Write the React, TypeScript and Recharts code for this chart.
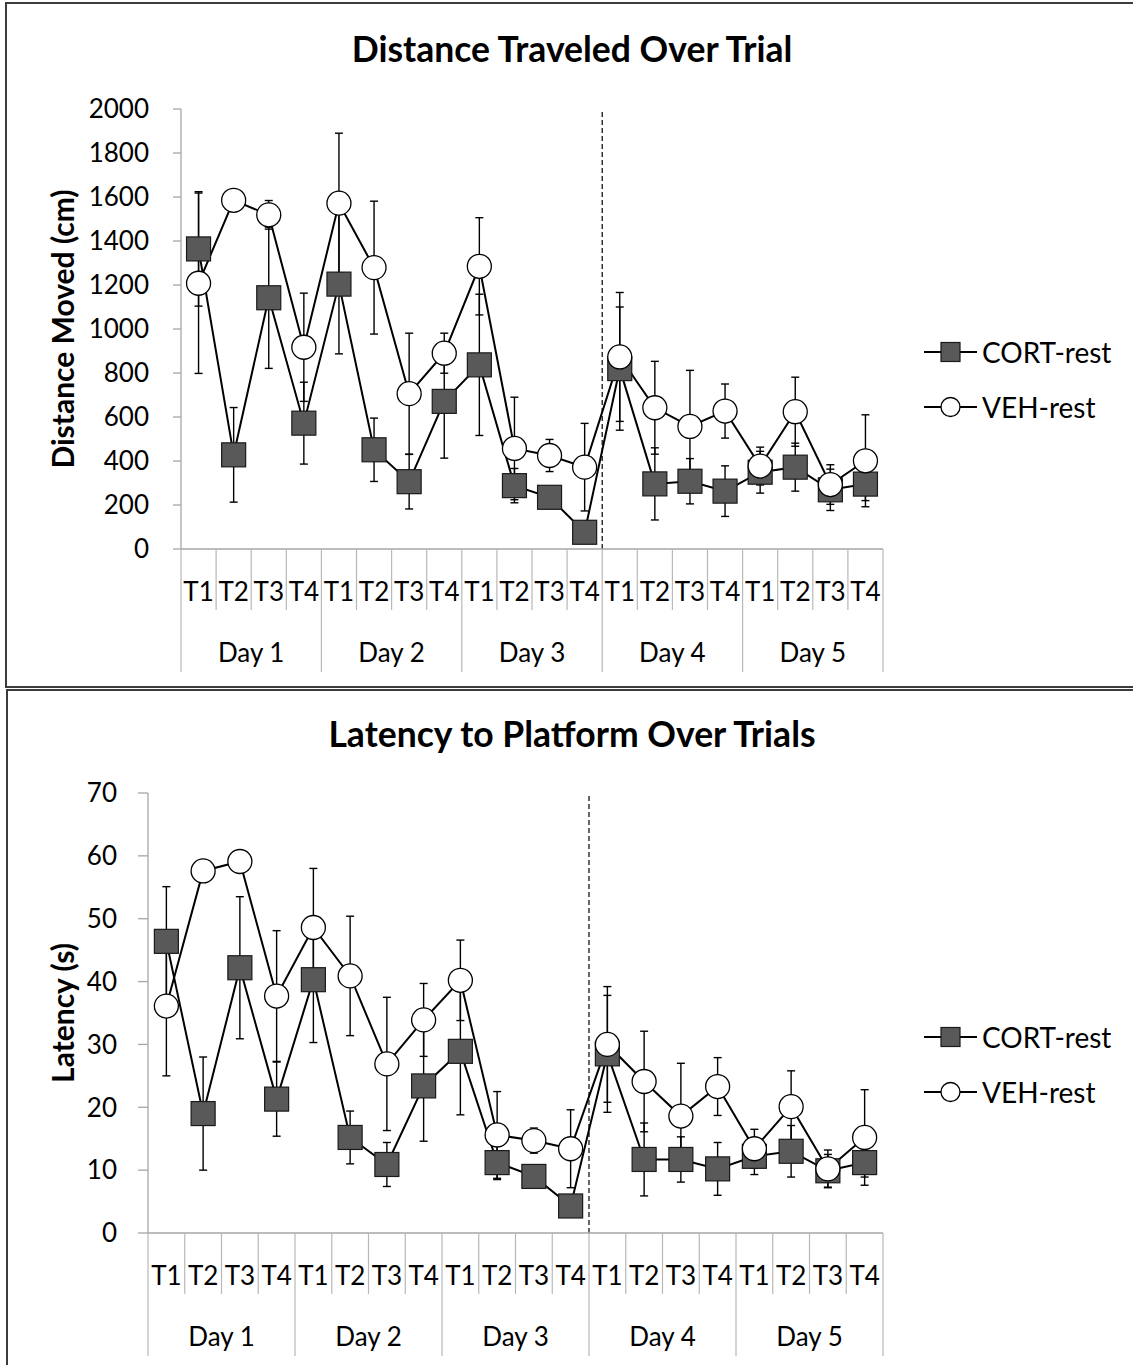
import React from 'react';
import { ComposedChart, Line, XAxis, YAxis, ErrorBar, ReferenceLine } from 'recharts';

const trialLabels = ['T1', 'T2', 'T3', 'T4', 'T1', 'T2', 'T3', 'T4', 'T1', 'T2', 'T3', 'T4', 'T1', 'T2', 'T3', 'T4', 'T1', 'T2', 'T3', 'T4'];
const dayLabels = ['Day 1', 'Day 2', 'Day 3', 'Day 4', 'Day 5'];
const seriesNames = ['CORT-rest', 'VEH-rest'];

const distCort = [1364, 428, 1142, 572, 1204, 451, 306, 671, 837, 288, 235, 76, 820, 296, 308, 263, 349, 372, 269, 295];
const distCortErr = [260, 215, 321, 186, 317, 144, 124, 258, 321, 78, 20, 20, 280, 164, 103, 115, 95, 109, 94, 75];
const distVeh = [1208, 1585, 1519, 917, 1572, 1279, 706, 890, 1285, 457, 425, 372, 873, 642, 557, 627, 377, 624, 293, 401];
const distVehErr = [410, 15, 65, 246, 318, 302, 275, 91, 221, 233, 73, 199, 293, 211, 255, 123, 86, 157, 90, 209];

const latCort = [46.4, 19.0, 42.2, 21.3, 40.3, 15.2, 10.9, 23.4, 28.9, 11.2, 9.0, 4.3, 28.5, 11.7, 11.7, 10.2, 12.2, 13.0, 9.9, 11.2];
const latCortErr = [8.7, 9.0, 11.3, 5.9, 10.0, 4.2, 3.5, 8.8, 10.1, 2.7, 0.8, 0.5, 9.3, 5.8, 3.6, 4.2, 2.9, 4.1, 2.6, 2.3];
const latVeh = [36.1, 57.6, 59.1, 37.7, 48.6, 40.9, 26.9, 33.9, 40.2, 15.6, 14.7, 13.4, 30.0, 24.1, 18.6, 23.3, 13.4, 20.1, 10.2, 15.2];
const latVehErr = [11.1, 0.5, 0.5, 10.4, 9.4, 9.5, 10.6, 5.8, 6.4, 6.9, 2.0, 6.2, 9.2, 8.0, 8.4, 4.6, 3.1, 5.7, 3.0, 7.6];

const distTicks = [0, 200, 400, 600, 800, 1000, 1200, 1400, 1600, 1800, 2000];
const latTicks = [0, 10, 20, 30, 40, 50, 60, 70];
const boundaryTicks = Array.from({ length: 21 }, (_, i) => i);

const FONT = 'Lato, "Open Sans", sans-serif';
const AXIS_GRAY = '#a6a6a6';

const buildRows = (cort: number[], cortErr: number[], veh: number[], vehErr: number[]) =>
  trialLabels.map((t, i) => ({ x: i + 0.5, trial: t, cort: cort[i], cortErr: cortErr[i], veh: veh[i], vehErr: vehErr[i] }));

const distRows = buildRows(distCort, distCortErr, distVeh, distVehErr);
const latRows = buildRows(latCort, latCortErr, latVeh, latVehErr);

const SquareDot = (props: any) => {
  const { cx, cy, index } = props;
  if (cx == null || cy == null) return <g key={`sq-${index}`} />;
  return <rect key={`sq-${index}`} x={cx - 12} y={cy - 12} width={24} height={24} fill="#595959" stroke="#1a1a1a" strokeWidth={1.2} />;
};

const CircleDot = (props: any) => {
  const { cx, cy, index } = props;
  if (cx == null || cy == null) return <g key={`ci-${index}`} />;
  return <circle key={`ci-${index}`} cx={cx} cy={cy} r={12} fill="#ffffff" stroke="#000" strokeWidth={1.3} />;
};

const makeXTick = (slot: number) => (props: any) => {
  const { x, y, payload } = props;
  const v = Math.round(payload.value);
  const isDay = v % 4 === 0;
  return (
    <g>
      <line x1={x} x2={x} y1={y} y2={y + (isDay ? 123 : 61)} stroke="#b8b8b8" strokeWidth={1.2} />
      {v < 20 && (
        <text x={x + slot / 2} y={y + 42} textAnchor="middle" dominantBaseline="central" fontSize={26} fill="#000">
          {trialLabels[v]}
        </text>
      )}
      {isDay && v < 20 && (
        <text x={x + slot * 2} y={y + 103} textAnchor="middle" dominantBaseline="central" fontSize={26} fill="#000">
          {dayLabels[v / 4]}
        </text>
      )}
    </g>
  );
};

type PanelProps = {
  top: number;
  height: number;
  rows: any[];
  yMax: number;
  yTicks: number[];
  plotLeft: number;
  plotRight: number;
  plotTop: number;
  plotBottom: number;
  ySize: number;
  yMargin: number;
  title: string;
  titleY: number;
  yLabel: string;
  legendY: number;
};

const LegendRow = ({ name, y, square }: { name: string; y: number; square: boolean }) => (
  <div style={{ position: 'absolute', left: 924, top: y - 15, height: 30, display: 'flex', alignItems: 'center' }}>
    <svg width={53} height={30}>
      <line x1={0} x2={53} y1={15} y2={15} stroke="#000" strokeWidth={2} />
      {square ? (
        <rect x={17} y={5.5} width={19} height={19} fill="#595959" stroke="#1a1a1a" strokeWidth={1.2} />
      ) : (
        <circle cx={26.5} cy={15} r={9.5} fill="#fff" stroke="#000" strokeWidth={1.3} />
      )}
    </svg>
    <span style={{ marginLeft: 5, fontSize: 28, lineHeight: '30px', color: '#000' }}>{name}</span>
  </div>
);

const Panel = (p: PanelProps) => {
  const slot = (p.plotRight - p.plotLeft) / 20;
  const yAxisWidth = 100;
  const xAxisHeight = 130;
  const XTick = makeXTick(slot);
  const plotMid = (p.plotTop + p.plotBottom) / 2;
  return (
    <div style={{ position: 'absolute', left: 0, top: p.top, width: 1133, height: p.height }}>
      <div style={{ position: 'absolute', left: 0, top: 0 }}>
        <ComposedChart
          width={1133}
          height={p.height}
          data={p.rows}
          margin={{ left: p.plotLeft - yAxisWidth, right: 1133 - p.plotRight, top: p.plotTop, bottom: p.height - p.plotBottom - xAxisHeight }}
        >
          <XAxis
            dataKey="x"
            type="number"
            domain={[0, 20]}
            ticks={boundaryTicks}
            interval={0}
            height={xAxisHeight}
            tickSize={0}
            tickMargin={0}
            tickLine={false}
            axisLine={{ stroke: AXIS_GRAY, strokeWidth: 1.3 }}
            tick={XTick}
          />
          <YAxis
            type="number"
            domain={[0, p.yMax]}
            ticks={p.yTicks}
            interval={0}
            width={yAxisWidth}
            tickSize={p.ySize}
            tickMargin={p.yMargin}
            tickLine={{ stroke: AXIS_GRAY, strokeWidth: 1.3 }}
            axisLine={{ stroke: AXIS_GRAY, strokeWidth: 1.3 }}
            tick={{ fill: '#000', fontSize: 26 }}
          />
          <ReferenceLine x={12} stroke="#000" strokeWidth={1.2} strokeDasharray="5 3" />
          <Line dataKey="cort" stroke="none" dot={false} activeDot={false} legendType="none" isAnimationActive={false}>
            <ErrorBar dataKey="cortErr" width={4} stroke="#000" strokeWidth={1.4} direction="y" isAnimationActive={false} />
          </Line>
          <Line dataKey="veh" stroke="none" dot={false} activeDot={false} legendType="none" isAnimationActive={false}>
            <ErrorBar dataKey="vehErr" width={4} stroke="#000" strokeWidth={1.4} direction="y" isAnimationActive={false} />
          </Line>
          <Line dataKey="cort" name={seriesNames[0]} type="linear" stroke="#000" strokeWidth={2} dot={SquareDot} activeDot={false} isAnimationActive={false} />
          <Line dataKey="veh" name={seriesNames[1]} type="linear" stroke="#000" strokeWidth={2} dot={CircleDot} activeDot={false} isAnimationActive={false} />
        </ComposedChart>
      </div>
      <div
        style={{
          position: 'absolute',
          left: 572 - 400,
          width: 800,
          top: p.titleY - 19,
          fontSize: 35.5,
          lineHeight: 1,
          fontWeight: 700,
          textAlign: 'center',
          color: '#000',
        }}
      >
        {p.title}
      </div>
      <div
        style={{
          position: 'absolute',
          left: 62 - 200,
          width: 400,
          top: plotMid - 17,
          height: 34,
          lineHeight: '34px',
          fontSize: 30,
          fontWeight: 700,
          textAlign: 'center',
          color: '#000',
          transform: 'rotate(-90deg)',
          transformOrigin: '50% 50%',
        }}
      >
        {p.yLabel}
      </div>
      <LegendRow name={seriesNames[0]} y={p.legendY} square />
      <LegendRow name={seriesNames[1]} y={p.legendY + 55} square={false} />
    </div>
  );
};

export default function App() {
  return (
    <div style={{ position: 'absolute', left: 0, top: 0, width: 1133, height: 1365, background: '#fff', fontFamily: FONT, overflow: 'hidden' }}>
      <div style={{ position: 'absolute', left: 5, top: 2, width: 1140, height: 682, border: '2px solid #3c3c3c' }} />
      <div style={{ position: 'absolute', left: 6, top: 689, width: 1140, height: 700, border: '2px solid #3c3c3c' }} />
      <Panel
        top={0}
        height={685}
        rows={distRows}
        yMax={2000}
        yTicks={distTicks}
        plotLeft={181}
        plotRight={883}
        plotTop={109}
        plotBottom={549}
        ySize={8}
        yMargin={24}
        title="Distance Traveled Over Trial"
        titleY={50}
        yLabel="Distance Moved (cm)"
        legendY={352}
      />
      <Panel
        top={690}
        height={675}
        rows={latRows}
        yMax={70}
        yTicks={latTicks}
        plotLeft={148}
        plotRight={883}
        plotTop={103}
        plotBottom={543}
        ySize={10}
        yMargin={21}
        title="Latency to Platform Over Trials"
        titleY={45}
        yLabel="Latency (s)"
        legendY={347}
      />
    </div>
  );
}
